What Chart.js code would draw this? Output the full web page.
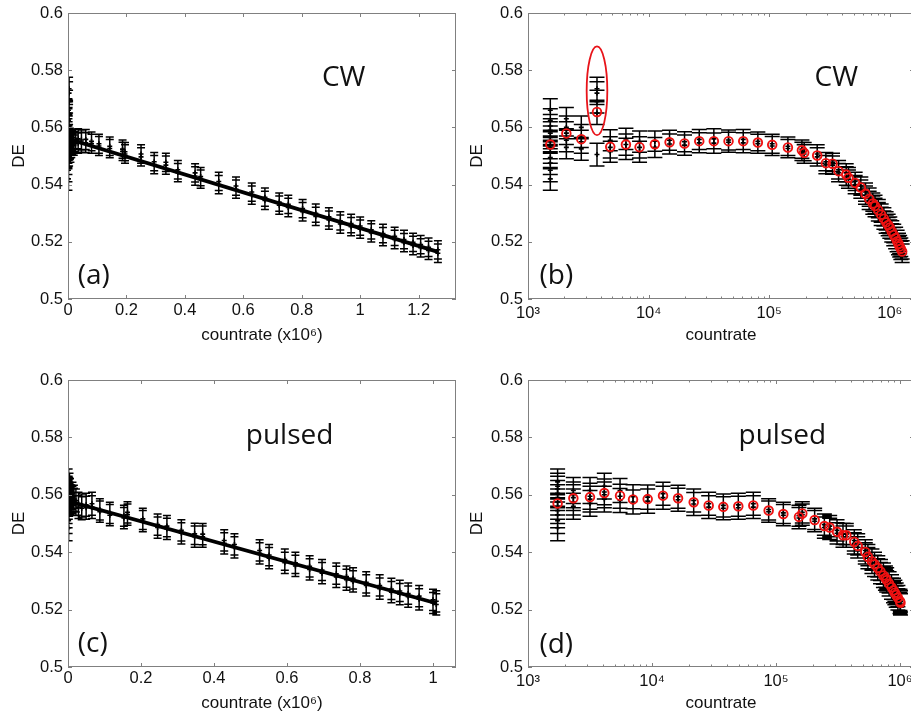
<!DOCTYPE html>
<html>
<head>
<meta charset="utf-8">
<script src="https://cdn.jsdelivr.net/npm/chart.js@4.4.0/dist/chart.umd.min.js"></script>
<style>
  html, body { margin: 0; padding: 0; background: #fff; width: 911px; height: 717px; overflow: hidden; }
  .panel { position: absolute; overflow: hidden; }
  .panel canvas { display: block; }
</style>
</head>
<body>
<div class="panel" id="pa"><canvas id="ca"></canvas></div>
<div class="panel" id="pb"><canvas id="cb"></canvas></div>
<div class="panel" id="pc"><canvas id="cc"></canvas></div>
<div class="panel" id="pd"><canvas id="cd"></canvas></div>
<script>
// ---------------- CW measurements ----------------
// count rate of each level (counts/s)
const cwRate = [1531, 2080, 2766, 3733, 4808, 6486, 8414, 11270, 14920, 19860,
  26300, 34760, 46000, 60900, 80500, 105900, 142900, 186700, 195000, 250000,
  295000, 335000, 376000, 435000, 454000, 516000, 575000, 629000, 674000, 723000,
  754000, 803000, 848000, 893000, 932000, 969000, 1000000, 1038000, 1078000, 1118000,
  1150000, 1181000, 1207000, 1234000, 1266000];
// mean detection efficiency per level
const cwMean = [0.5540, 0.5579, 0.5559, 0.5654, 0.5532, 0.5540, 0.5531, 0.5541, 0.5548, 0.5544,
  0.5552, 0.5552, 0.5552, 0.5552, 0.5547, 0.5539, 0.5530, 0.5520, 0.5511, 0.5502,
  0.5475, 0.5473, 0.5447, 0.5435, 0.5424, 0.5406, 0.5390, 0.5368, 0.5350, 0.5334,
  0.5325, 0.5310, 0.5295, 0.5281, 0.5268, 0.5259, 0.5250, 0.5236, 0.5224, 0.5213,
  0.5202, 0.5193, 0.5184, 0.5176, 0.5166];
// individual runs per level
const cwRuns = [
  [0.5420, 0.5450, 0.5475, 0.5495, 0.5515, 0.5530, 0.5550, 0.5565, 0.5580, 0.5590, 0.5605, 0.5625, 0.5660],
  [0.5530, 0.5555, 0.5580, 0.5600, 0.5630],
  [0.5525, 0.5550, 0.5570, 0.5600],
  [0.5505, 0.5650, 0.5690, 0.5720, 0.5735],
  [0.5515, 0.5530, 0.5555],
  [0.5525, 0.5540, 0.5560],
  [0.5515, 0.5530, 0.5550],
  [0.5530, 0.5552], [0.5542, 0.5555], [0.5538, 0.5550], [0.5546, 0.5558], [0.5545, 0.5560],
  [0.5548, 0.5556], [0.5546, 0.5558], [0.5543, 0.5551], [0.5535, 0.5543], [0.5526, 0.5534],
  [0.5516, 0.5524], [0.5507, 0.5515], [0.5497, 0.5507], [0.5470, 0.5480], [0.5468, 0.5478],
  [0.5442, 0.5452], [0.5430, 0.5441], [0.5419, 0.5428], [0.5400, 0.5411], [0.5384, 0.5395],
  [0.5363, 0.5374], [0.5345, 0.5356], [0.5328, 0.5339], [0.5320, 0.5331], [0.5305, 0.5316],
  [0.5289, 0.5300], [0.5276, 0.5287], [0.5262, 0.5273], [0.5253, 0.5264], [0.5244, 0.5255],
  [0.5231, 0.5242], [0.5218, 0.5229], [0.5208, 0.5219], [0.5197, 0.5208], [0.5187, 0.5198],
  [0.5179, 0.5190], [0.5170, 0.5181], [0.5160, 0.5172]
];
// one-sigma uncertainty of a single run at each level
const cwErr = [0.0040, 0.0040, 0.0040, 0.0040, 0.0037, 0.0037, 0.0037, 0.0035, 0.0035, 0.0035,
  0.0035, 0.0035, 0.0035, 0.0035, 0.0033, 0.0033, 0.0032, 0.0032, 0.0032, 0.0032,
  0.0032, 0.0032, 0.0032, 0.0032, 0.0032, 0.0032, 0.0032, 0.0032, 0.0032, 0.0032,
  0.0032, 0.0032, 0.0032, 0.0032, 0.0032, 0.0032, 0.0032, 0.0032, 0.0032, 0.0032,
  0.0032, 0.0032, 0.0032, 0.0032, 0.0032];
// linear fit end points
const cwFitRate = [0, 1266000];
const cwFitDE = [0.5560, 0.5165];

// ---------------- pulsed measurements ----------------
const pulRate = [1733, 2321, 3162, 4126, 5524, 7031, 9230, 12270, 16220, 21690,
  28660, 37600, 49660, 65630, 87260, 114600, 153200, 163000, 205000, 245500,
  271000, 310600, 347000, 369000, 428000, 456000, 525000, 551000, 594000, 623000,
  662000, 696000, 735000, 763000, 781000, 817000, 854000, 886000, 909000, 932000,
  962000, 1000000, 1009000];
const pulMean = [0.5570, 0.5588, 0.5592, 0.5606, 0.5597, 0.5584, 0.5585, 0.5597, 0.5588, 0.5574,
  0.5563, 0.5558, 0.5560, 0.5563, 0.5545, 0.5533, 0.5523, 0.5535, 0.5512, 0.5491,
  0.5486, 0.5471, 0.5459, 0.5459, 0.5436, 0.5422, 0.5401, 0.5384, 0.5368, 0.5358,
  0.5345, 0.5333, 0.5319, 0.5310, 0.5303, 0.5290, 0.5278, 0.5267, 0.5259, 0.5251,
  0.5241, 0.5229, 0.5224];
const pulRuns = [
  [0.5485, 0.5510, 0.5530, 0.5545, 0.5560, 0.5575, 0.5590, 0.5605, 0.5620, 0.5630, 0.5645],
  [0.5560, 0.5575, 0.5590, 0.5600, 0.5615],
  [0.5570, 0.5585, 0.5595, 0.5615],
  [0.5585, 0.5600, 0.5610, 0.5630],
  [0.5580, 0.5595, 0.5615],
  [0.5575, 0.5593], [0.5578, 0.5592], [0.5590, 0.5604], [0.5583, 0.5593], [0.5568, 0.5580],
  [0.5557, 0.5569], [0.5553, 0.5563], [0.5555, 0.5565], [0.5557, 0.5569], [0.5541, 0.5549],
  [0.5529, 0.5537], [0.5519, 0.5527], [0.5531, 0.5539], [0.5508, 0.5516], [0.5486, 0.5496],
  [0.5481, 0.5491], [0.5466, 0.5476], [0.5454, 0.5464], [0.5454, 0.5463], [0.5431, 0.5441],
  [0.5417, 0.5427], [0.5396, 0.5406], [0.5379, 0.5390], [0.5363, 0.5374], [0.5352, 0.5363],
  [0.5340, 0.5351], [0.5327, 0.5338], [0.5314, 0.5325], [0.5304, 0.5315], [0.5298, 0.5309],
  [0.5284, 0.5295], [0.5273, 0.5284], [0.5261, 0.5272], [0.5254, 0.5265], [0.5245, 0.5256],
  [0.5236, 0.5247], [0.5223, 0.5234], [0.5218, 0.5229]
];
const pulErr = [0.0045, 0.0045, 0.0045, 0.0045, 0.0042, 0.0042, 0.0042, 0.0040, 0.0040, 0.0040,
  0.0040, 0.0040, 0.0040, 0.0040, 0.0037, 0.0037, 0.0037, 0.0037, 0.0037, 0.0037,
  0.0037, 0.0037, 0.0037, 0.0037, 0.0037, 0.0037, 0.0037, 0.0037, 0.0037, 0.0037,
  0.0037, 0.0037, 0.0037, 0.0037, 0.0037, 0.0037, 0.0037, 0.0037, 0.0037, 0.0037,
  0.0037, 0.0037, 0.0037];
const pulFitRate = [0, 1009000];
const pulFitDE = [0.5578, 0.5222];

// ---------------- axes ----------------
const deTicks = [0.5, 0.52, 0.54, 0.56, 0.58, 0.6];
const linTicksCW = [0, 0.2, 0.4, 0.6, 0.8, 1, 1.2];
const linTicksPul = [0, 0.2, 0.4, 0.6, 0.8, 1];
const logTicks = [1e3, 1e4, 1e5, 1e6];
const SUP = { 3: '\u00B3', 4: '\u2074', 5: '\u2075', 6: '\u2076' };

const TICK_FONT = { family: '"Liberation Sans", Arial, sans-serif', size: 16.5 };
const TITLE_FONT = { family: '"Liberation Sans", Arial, sans-serif', size: 17 };
const NOTE_FONT = '28px "Open Sans", "Noto Sans", sans-serif';
const FRAME = '#808080';
const INK = '#111';
const PAGE_W = 911;

// points with their error bars, one entry per run
function runPoints(rate, runs, err, xScale) {
  const data = [], errors = [];
  rate.forEach((r, i) => runs[i].forEach(v => { data.push({ x: r * xScale, y: v }); errors.push(err[i]); }));
  return { data, errors };
}
function meanPoints(rate, mean) {
  return rate.map((r, i) => ({ x: r, y: mean[i] }));
}
function fitPoints(rate, de, xScale) {
  return rate.map((r, i) => ({ x: r * xScale, y: de[i] }));
}

// box with inward ticks on all four sides
const framePlugin = {
  id: 'frame',
  afterDraw(chart) {
    const { ctx, chartArea: a, scales: { x, y } } = chart;
    ctx.save();
    ctx.strokeStyle = FRAME;
    ctx.lineWidth = 1;
    ctx.strokeRect(a.left + 0.5, a.top + 0.5, a.right - a.left - 1, a.bottom - a.top - 1);
    ctx.beginPath();
    const major = 4, minor = 2.5;
    y.ticks.forEach(t => {
      const p = Math.round(y.getPixelForValue(t.value)) + 0.5;
      ctx.moveTo(a.left, p); ctx.lineTo(a.left + major, p);
      ctx.moveTo(a.right, p); ctx.lineTo(a.right - major, p);
    });
    const xt = (v, len) => {
      const p = Math.round(x.getPixelForValue(v)) + 0.5;
      if (p < a.left || p > a.right) return;
      ctx.moveTo(p, a.bottom); ctx.lineTo(p, a.bottom - len);
      ctx.moveTo(p, a.top); ctx.lineTo(p, a.top + len);
    };
    x.ticks.forEach(t => xt(t.value, major));
    if (x.type === 'logarithmic') {
      for (let e = 3; e <= 6; e++) for (let m = 2; m <= 9; m++) {
        const v = m * Math.pow(10, e);
        if (v < x.min || v > x.max) continue;
        xt(v, minor);
      }
    }
    ctx.stroke();
    ctx.restore();
  }
};

// vertical error bars for datasets that carry an `errors` array
const errorBarPlugin = {
  id: 'errorBars',
  beforeDatasetsDraw(chart, args, opts) {
    const { ctx, chartArea: a, scales: { x, y } } = chart;
    ctx.save();
    ctx.beginPath();
    ctx.rect(a.left, a.top, a.right - a.left, a.bottom - a.top);
    ctx.clip();
    ctx.strokeStyle = '#000';
    ctx.lineWidth = opts.lineWidth;
    chart.data.datasets.forEach(ds => {
      if (!ds.errors) return;
      ctx.beginPath();
      ds.data.forEach((pt, i) => {
        const e = ds.errors[i];
        const px = x.getPixelForValue(pt.x);
        const y1 = y.getPixelForValue(pt.y - e);
        const y2 = y.getPixelForValue(pt.y + e);
        ctx.moveTo(px, y1); ctx.lineTo(px, y2);
        ctx.moveTo(px - opts.cap, y1); ctx.lineTo(px + opts.cap, y1);
        ctx.moveTo(px - opts.cap, y2); ctx.lineTo(px + opts.cap, y2);
      });
      ctx.stroke();
    });
    ctx.restore();
  }
};

// text labels and outline annotations placed in data coordinates
const notesPlugin = {
  id: 'notes',
  afterDatasetsDraw(chart, args, opts) {
    const { ctx, scales: { x, y } } = chart;
    ctx.save();
    ctx.fillStyle = INK;
    ctx.font = NOTE_FONT;
    ctx.textAlign = 'center';
    ctx.textBaseline = 'alphabetic';
    (opts.texts || []).forEach(t => ctx.fillText(t.text, x.getPixelForValue(t.x), y.getPixelForValue(t.y)));
    (opts.ellipses || []).forEach(el => {
      const cx = x.getPixelForValue(el.x);
      const cy = y.getPixelForValue(el.y);
      const rx = (x.getPixelForValue(el.x * el.xFactor) - x.getPixelForValue(el.x / el.xFactor)) / 2;
      const ry = Math.abs(y.getPixelForValue(el.y + el.dy) - y.getPixelForValue(el.y - el.dy)) / 2;
      ctx.beginPath();
      ctx.ellipse(cx, cy, rx, ry, 0, 0, Math.PI * 2);
      ctx.strokeStyle = '#e8141a';
      ctx.lineWidth = 1.8;
      ctx.stroke();
    });
    ctx.restore();
  }
};

function makePanel(cfg) {
  const p = cfg.plot;
  const left = p.l - 68, top = p.t - 13;
  const W = p.r - left + 4, H = p.b - top + 47;
  const div = document.getElementById(cfg.div);
  div.style.left = left + 'px';
  div.style.top = top + 'px';
  // the panel box stops at the page edge; the canvas may run past it
  div.style.width = Math.min(W, PAGE_W - left) + 'px';
  div.style.height = H + 'px';
  const canvas = document.getElementById(cfg.canvas);
  canvas.width = W; canvas.height = H;
  canvas.style.width = W + 'px'; canvas.style.height = H + 'px';

  const isLog = cfg.xType === 'logarithmic';
  new Chart(canvas, {
    type: 'scatter',
    data: { datasets: cfg.datasets },
    options: {
      responsive: false,
      animation: false,
      devicePixelRatio: 1,
      events: [],
      layout: { autoPadding: false, padding: { left: 0, top: 13, right: 4, bottom: 0 } },
      plugins: {
        legend: { display: false },
        tooltip: { enabled: false },
        errorBars: { cap: cfg.cap, lineWidth: 1.5 },
        notes: { texts: cfg.texts, ellipses: cfg.ellipses || [] }
      },
      scales: {
        x: {
          type: cfg.xType,
          position: 'bottom',
          min: cfg.xMin, max: cfg.xMax,
          grid: { display: false, drawTicks: false },
          border: { display: false },
          ticks: {
            font: TICK_FONT, color: INK, padding: isLog ? 5 : 2,
            autoSkip: false, maxRotation: 0,
            callback: isLog
              ? v => '10' + SUP[Math.round(Math.log10(v))]
              : v => String(+(+v).toFixed(1))
          },
          afterBuildTicks: s => { s.ticks = cfg.xTicks.map(v => ({ value: v })); },
          afterFit: s => { s.height = 47; s.paddingLeft = 0; s.paddingRight = 0; },
          title: { display: true, text: cfg.xTitle, font: TITLE_FONT, color: INK, padding: 0 }
        },
        y: {
          type: 'linear',
          position: 'left',
          min: 0.5, max: 0.6,
          grid: { display: false, drawTicks: false },
          border: { display: false },
          ticks: { font: TICK_FONT, color: INK, padding: 5, autoSkip: false,
                   callback: v => String(+(+v).toFixed(2)) },
          afterBuildTicks: s => { s.ticks = deTicks.map(v => ({ value: v })); },
          afterFit: s => { s.width = 68; s.paddingTop = 0; s.paddingBottom = 0; },
          title: { display: true, text: 'DE', font: TITLE_FONT, color: INK,
                   padding: { top: cfg.yTitlePad, bottom: 0 } }
        }
      }
    },
    plugins: [errorBarPlugin, notesPlugin, framePlugin]
  });
}

const crossStyle = { pointStyle: 'cross', pointRadius: 2.5, pointBorderWidth: 1.6,
                     pointBorderColor: '#000', pointBackgroundColor: '#000' };
const circleStyle = { pointStyle: 'circle', pointRadius: 4.3, pointBorderWidth: 1.9,
                      pointBorderColor: '#ee1111', pointBackgroundColor: 'rgba(0,0,0,0)' };
const fitStyle = { showLine: true, borderColor: '#000', borderWidth: 3.8, pointRadius: 0 };

// (a) CW, linear count rate in units of 1e6
const cwLin = runPoints(cwRate, cwRuns, cwErr, 1e-6);
makePanel({
  div: 'pa', canvas: 'ca', plot: { l: 68, t: 13, r: 456, b: 299 },
  xType: 'linear', xMin: 0, xMax: 1.328, xTicks: linTicksCW,
  xTitle: 'countrate (x10\u2076)', yTitlePad: 9, cap: 4,
  datasets: [
    Object.assign({ data: fitPoints(cwFitRate, cwFitDE, 1e-6) }, fitStyle),
    Object.assign({ data: cwLin.data, errors: cwLin.errors }, crossStyle)
  ],
  texts: [{ text: 'CW', x: 0.9435, y: 0.5745 }, { text: '(a)', x: 0.088, y: 0.5052 }]
});

// (b) CW, logarithmic count rate; the frame's right edge lies just past the page
const cwLog = runPoints(cwRate, cwRuns, cwErr, 1);
makePanel({
  div: 'pb', canvas: 'cb', plot: { l: 528, t: 13, r: 914, b: 299 },
  xType: 'logarithmic', xMin: 1000, xMax: 1.587e6, xTicks: logTicks,
  xTitle: 'countrate', yTitlePad: 7, cap: 7.5,
  datasets: [
    Object.assign({ data: meanPoints(cwRate, cwMean) }, circleStyle),
    Object.assign({ data: cwLog.data, errors: cwLog.errors }, crossStyle)
  ],
  texts: [{ text: 'CW', x: 3.6e5, y: 0.5745 }, { text: '(b)', x: 1718, y: 0.5052 }],
  ellipses: [{ x: 3733, y: 0.5728, dy: 0.0155, xFactor: 1.218 }]
});

// (c) pulsed, linear count rate in units of 1e6
const pulLin = runPoints(pulRate, pulRuns, pulErr, 1e-6);
makePanel({
  div: 'pc', canvas: 'cc', plot: { l: 68, t: 380, r: 456, b: 667 },
  xType: 'linear', xMin: 0, xMax: 1.063, xTicks: linTicksPul,
  xTitle: 'countrate (x10\u2076)', yTitlePad: 9, cap: 4,
  datasets: [
    Object.assign({ data: fitPoints(pulFitRate, pulFitDE, 1e-6) }, fitStyle),
    Object.assign({ data: pulLin.data, errors: pulLin.errors }, crossStyle)
  ],
  texts: [{ text: 'pulsed', x: 0.607, y: 0.5777 }, { text: '(c)', x: 0.068, y: 0.5051 }]
});

// (d) pulsed, logarithmic count rate
const pulLog = runPoints(pulRate, pulRuns, pulErr, 1);
makePanel({
  div: 'pd', canvas: 'cd', plot: { l: 528, t: 380, r: 914, b: 667 },
  xType: 'logarithmic', xMin: 1000, xMax: 1.297e6, xTicks: logTicks,
  xTitle: 'countrate', yTitlePad: 7, cap: 7.5,
  datasets: [
    Object.assign({ data: meanPoints(pulRate, pulMean) }, circleStyle),
    Object.assign({ data: pulLog.data, errors: pulLog.errors }, crossStyle)
  ],
  texts: [{ text: 'pulsed', x: 1.125e5, y: 0.5777 }, { text: '(d)', x: 1690, y: 0.5049 }]
});
</script>
</body>
</html>
